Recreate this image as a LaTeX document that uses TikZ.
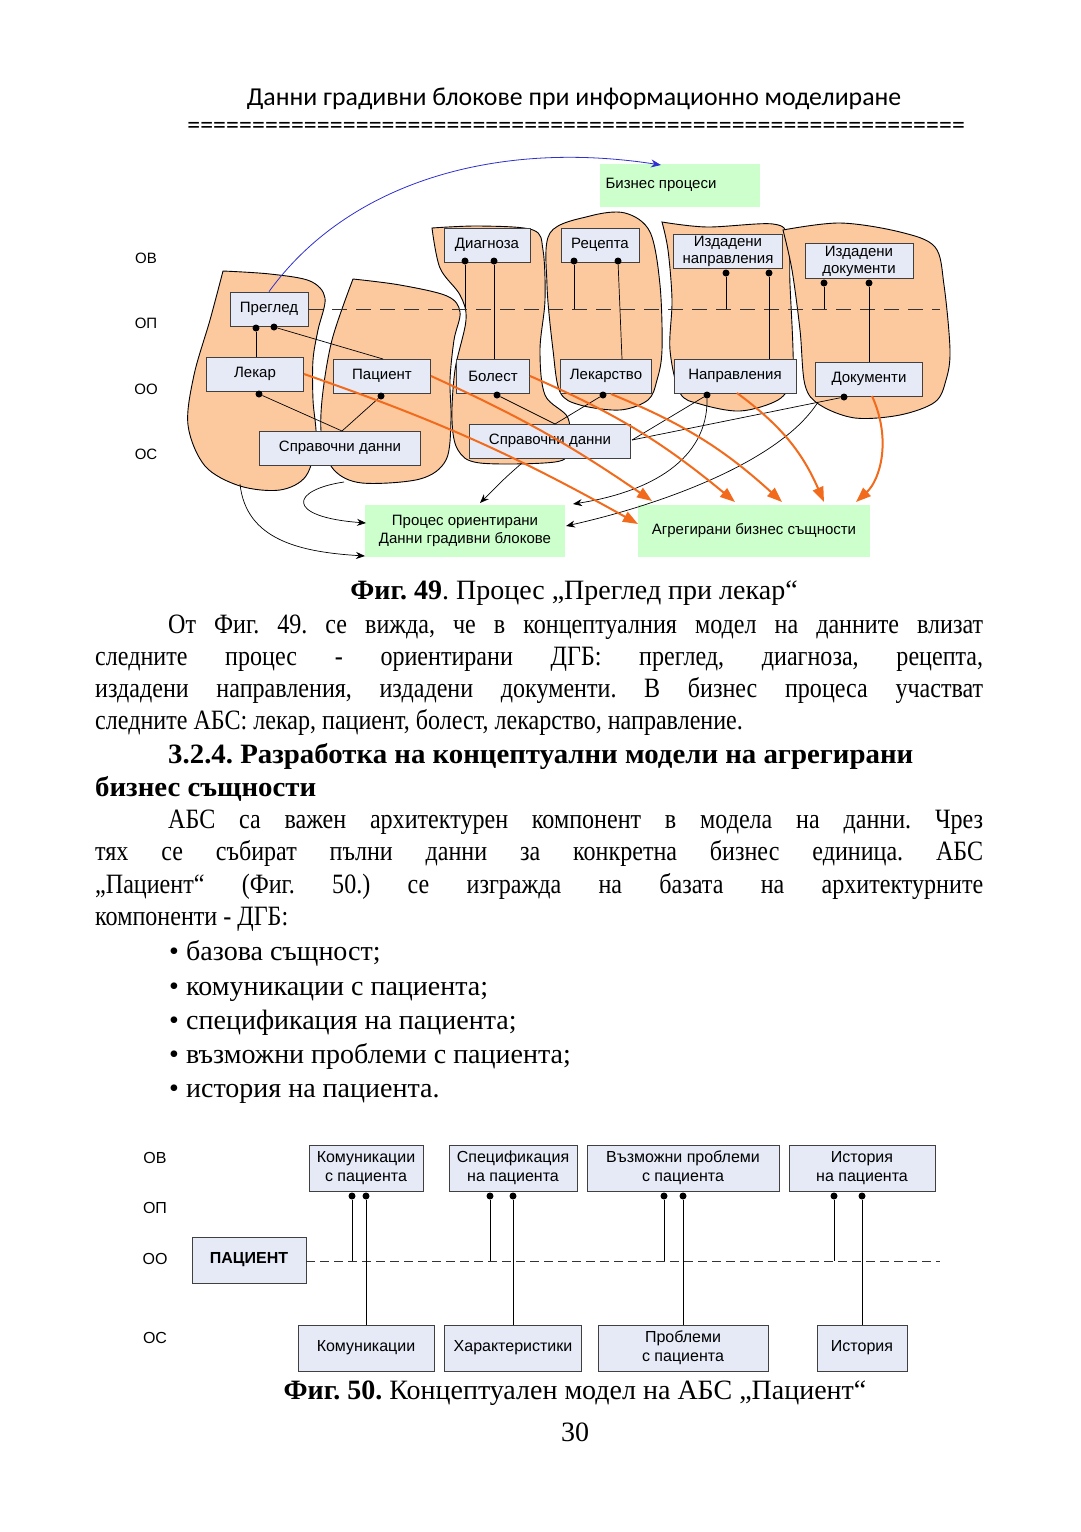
\documentclass[tikz,border=0pt]{standalone}
\usepackage{fontspec}
\usetikzlibrary{arrows.meta}
\newfontfamily\bodyfont{Liberation Serif}
\newfontfamily\parafont{Liberation Serif}[FakeStretch=0.86]
\newfontfamily\hbfont{Liberation Serif}[FakeStretch=1.03]
\newfontfamily\diafont{Liberation Sans}
\newfontfamily\headfont{Carlito}
\definecolor{boxblue}{HTML}{E6EAF6}
\definecolor{boxline}{HTML}{404040}
\definecolor{greenfill}{HTML}{CCFFCC}
\definecolor{blobfill}{HTML}{FCC89E}
\definecolor{orangeline}{HTML}{F26A1B}
\definecolor{blueline}{HTML}{3030D0}
\frenchspacing
\begin{document}
\begin{tikzpicture}[x=1pt,y=-1pt,
  txt/.style={font=\bodyfont\frenchspacing\fontsize{28}{32}\selectfont, inner sep=0pt},
  ptxt/.style={font=\parafont\frenchspacing\fontsize{28}{32}\selectfont, inner sep=0pt},
  htxt/.style={font=\hbfont\bfseries\frenchspacing\fontsize{28}{32}\selectfont, inner sep=0pt},
  fbox/.style={draw=boxline, fill=boxblue, line width=0.8pt, inner sep=0pt, align=center,
    font=\diafont\fontsize{15}{17}\selectfont},
  gbox/.style={fill=greenfill, inner sep=0pt, align=center, font=\diafont\fontsize{15}{18}\selectfont},
  sbox/.style={draw=boxline, fill=boxblue, line width=0.8pt, inner sep=0pt, align=center,
    font=\diafont\fontsize{16}{19}\selectfont},
  lbl/.style={font=\diafont\fontsize{15}{17}\selectfont, inner sep=0pt},
  blob/.style={draw=black, fill=blobfill, line width=0.9pt, line join=miter},
  dot/.style={circle, fill=black, inner sep=0pt, minimum size=7pt},
  conn/.style={draw=black, line width=0.7pt},
  barrow/.style={draw=black, line width=0.7pt, -{Stealth[length=9pt,width=7pt]}},
  oarrow/.style={draw=orangeline, line width=2pt, -{Triangle[length=15pt,width=11pt]}},
]
\fill[white] (0,0) rectangle (1080,1532);
\useasboundingbox (0,0) rectangle (1080,1532);

% ---------- header ----------
\node[anchor=base, font=\headfont\fontsize{25.8}{28}\selectfont, inner sep=0pt] (hdr) at (574,105)
  {Данни градивни блокове при информационно моделиране};
\node[anchor=base west, font=\headfont\fontsize{25.8}{28}\selectfont, inner sep=0pt] (eqline) at (187,133)
  {\hbox to 778pt{\xleaders\hbox{=}\hfill}};

% ---------- Fig 49 blobs (sharp top-left corners) ----------
\path[blob] plot[smooth, tension=0.55] coordinates {(223,271) (270,274) (310,281) (325,298) (318,330) (313,360) (313,400) (316,440) (306,476) (280,490) (240,486) (205,466) (188,425) (194,375) (210,320) (223,271)} -- cycle;
\path[blob] plot[smooth, tension=0.55] coordinates {(353,279) (400,285) (447,296) (460,312) (454,340) (450,380) (451,420) (446,460) (420,479) (362,483) (334,470) (322,440) (322,400) (332,340) (353,279)} -- cycle;
\path[blob] plot[smooth, tension=0.55] coordinates {(432,228) (480,226) (533,230) (543,250) (545,300) (540,350) (545,395) (568,418) (568,450) (555,462) (480,463) (458,450) (452,420) (455,370) (466,320) (460,295) (440,268) (432,228)} -- cycle;
\path[blob] plot[smooth cycle, tension=0.55] coordinates {(550,233) (590,216) (625,213) (650,232) (660,285) (662,350) (657,380) (648,400) (620,410) (580,405) (560,392) (553,350) (547,285)};
\path[blob] plot[smooth, tension=0.55] coordinates {(662,222) (707,227) (773,224) (788,238) (790,285) (793,350) (792,380) (778,400) (740,411) (700,404) (680,393) (670,350) (672,300) (668,250) (662,222)} -- cycle;
\path[blob] plot[smooth, tension=0.55] coordinates {(783,230) (840,223) (900,232) (935,247) (944,285) (950,350) (946,380) (935,402) (900,415) (855,418) (820,405) (805,385) (800,330) (792,270) (783,230)} -- cycle;

% ---------- Fig 49 level labels ----------
\node[lbl] (ov1) at (146,258) {ОВ};
\node[lbl] (op1) at (146,323) {ОП};
\node[lbl] (oo1) at (146,389) {ОО};
\node[lbl] (os1) at (146,454) {ОС};

% ---------- Fig 49 boxes ----------
\node[fbox, minimum width=78, minimum height=34] (pregled) at (269,309) {Преглед};
\node[fbox, minimum width=97, minimum height=34] (lekar) at (255,374) {Лекар};
\node[fbox, minimum width=97, minimum height=34] (pacient) at (382,376) {Пациент};
\node[fbox, minimum width=161, minimum height=34] (sprL) at (340,448) {Справочни данни};
\node[fbox, minimum width=86, minimum height=34] (diag) at (487,245) {Диагноза};
\node[fbox, minimum width=78, minimum height=34] (recepta) at (600,245) {Рецепта};
\node[fbox, minimum width=73, minimum height=34] (bolest) at (493,376) {Болест};
\node[fbox, minimum width=91, minimum height=34] (lekarstvo) at (606,376) {Лекарство};
\node[fbox, minimum width=161, minimum height=34] (sprM) at (550,441) {Справочни данни};
\node[fbox, minimum width=109, minimum height=34] (iznapr) at (728,251) {Издадени\\направления};
\node[fbox, minimum width=108, minimum height=35] (izdok) at (859,261) {Издадени\\документи};
\node[fbox, minimum width=122, minimum height=34] (napr) at (735,376) {Направления};
\node[fbox, minimum width=107, minimum height=34] (dok) at (869,379) {Документи};

\node[gbox, minimum width=160, minimum height=43] (bizpr) at (680,185) {\hspace*{-38pt}Бизнес процеси};
\node[gbox, minimum width=200, minimum height=52] (procor) at (465,531) {Процес ориентирани\\Данни градивни блокове};
\node[gbox, minimum width=232, minimum height=52] (agreg) at (754,531) {Агрегирани бизнес същности};

% ---------- dashed OП line ----------
\coordinate (dashend) at (940,309);
\draw[draw=black!80, line width=0.8pt, dash pattern=on 15pt off 9pt] (pregled.east) -- (dashend);

% ---------- dots and connectors ----------
\node[dot] (dPa) at (256,328) {};
\node[dot] (dPb) at (274,327) {};
\draw[conn] (dPa) -- (dPa |- lekar.north);
\coordinate (pacTop) at (383,359);
\draw[conn] (dPb) -- (pacTop);

\node[dot] (dDa) at (465,261) {};
\node[dot] (dDb) at (494,261) {};
\draw[conn] (dDa) -- (dDa |- dashend);
\draw[conn] (dDb) -- (dDb |- bolest.north);

\node[dot] (dRa) at (574,261) {};
\node[dot] (dRb) at (618,261) {};
\coordinate (lekTop) at (622,359);
\draw[conn] (dRa) -- (dRa |- dashend);
\draw[conn] (dRb) -- (lekTop);

\node[dot] (dNa) at (726,273) {};
\node[dot] (dNb) at (769,273) {};
\draw[conn] (dNa) -- (dNa |- dashend);
\draw[conn] (dNb) -- (dNb |- napr.north);

\node[dot] (dIa) at (824,283) {};
\node[dot] (dIb) at (869,283) {};
\draw[conn] (dIa) -- (dIa |- dashend);
\draw[conn] (dIb) -- (dIb |- dok.north);

\node[dot] (dL) at (259,394) {};
\node[dot] (dPc) at (381,396) {};
\coordinate (sprLtop) at (342,431);
\draw[conn] (dL) -- (sprLtop);
\draw[conn] (dPc) -- (sprLtop);

\node[dot] (dB) at (497,395) {};
\node[dot] (dLk) at (603,395) {};
\coordinate (sprMtop) at (555,424);
\draw[conn] (dB) -- (sprMtop);
\draw[conn] (dLk) -- (sprMtop);

\node[dot] (dNp) at (707,395) {};
\node[dot] (dDk) at (844,397) {};
\coordinate (sprMright) at (632,440);
\draw[conn] (dNp) -- (sprMright);
\draw[conn] (dDk) -- (sprMright);

% ---------- black curved arrows ----------
\coordinate (b1s) at (240,484);
\coordinate (b1e) at (365,556);
\draw[barrow] (b1s) .. controls (246,540) and (300,552) .. (b1e);
\coordinate (b2s) at (344,482);
\coordinate (b2e) at (366,523);
\draw[barrow] (b2s) .. controls (290,490) and (285,517) .. (b2e);
\coordinate (b3s) at (522,463);
\coordinate (b3e) at (480,503);
\draw[barrow] (b3s) .. controls (505,478) .. (b3e);
\coordinate (b4e) at (573,504);
\draw[barrow] (dNp) .. controls (708,460) and (650,492) .. (b4e);
\coordinate (b5s) at (818,402);
\coordinate (b5e) at (566,526);
\draw[barrow] (b5s) .. controls (780,462) and (660,505) .. (b5e);

% ---------- blue arrow ----------
\coordinate (blueEnd) at (661,165);
\draw[draw=blueline, line width=0.8pt, -{Stealth[length=10pt,width=8pt]}]
  (pregled.north) .. controls (350,180) and (500,140) .. (blueEnd);

% ---------- orange arrows ----------
\coordinate (o1) at (638,524);
\coordinate (o2) at (652,501);
\coordinate (o3) at (735,502);
\coordinate (o4) at (782,502);
\coordinate (o5) at (824,502);
\coordinate (o6) at (856,502);
\coordinate (lekarE) at (304,374);
\coordinate (pacE) at (431,376);
\coordinate (bolE) at (530,376);
\coordinate (lksB) at (611,394);
\coordinate (nprB) at (737,393);
\coordinate (dokB) at (872,396);
\draw[oarrow] (lekarE) to[bend left=5] (o1);
\draw[oarrow] (pacE) to[bend left=5] (o2);
\draw[oarrow] (bolE) to[bend left=8] (o3);
\draw[oarrow] (lksB) to[bend left=10] (o4);
\draw[oarrow] (nprB) to[bend left=15] (o5);
\draw[oarrow] (dokB) .. controls (892,440) and (880,480) .. (o6);

% ---------- body text ----------
\node[txt, anchor=base] (cap49) at (574,599) {\textbf{Фиг. 49}. Процес „Преглед при лекар“};
\node[ptxt, anchor=base west] (p1a) at (168,633) {\makebox[815pt][s]{От Фиг. 49. се вижда, че в концептуалния модел на данните влизат}};
\node[ptxt, anchor=base west] (p1b) at (95,665) {\makebox[888pt][s]{следните процес - ориентирани ДГБ: преглед, диагноза, рецепта,}};
\node[ptxt, anchor=base west] (p1c) at (95,697) {\makebox[888pt][s]{издадени направления, издадени документи. В бизнес процеса участват}};
\node[ptxt, anchor=base west] (p1d) at (95,729) {следните АБС: лекар, пациент, болест, лекарство, направление.};
\node[htxt, anchor=base west] (h1) at (168,763) {3.2.4. Разработка на концептуални модели на агрегирани};
\node[htxt, anchor=base west] (h2) at (95,796) {бизнес същности};
\node[ptxt, anchor=base west] (p2a) at (168,828) {\makebox[815pt][s]{АБС са важен архитектурен компонент в модела на данни. Чрез}};
\node[ptxt, anchor=base west] (p2b) at (95,860) {\makebox[888pt][s]{тях се събират пълни данни за конкретна бизнес единица. АБС}};
\node[ptxt, anchor=base west] (p2c) at (95,893) {\makebox[888pt][s]{„Пациент“ (Фиг. 50.) се изгражда на базата на архитектурните}};
\node[ptxt, anchor=base west] (p2d) at (95,925) {компоненти - ДГБ:};
\foreach \yy/\tt [count=\i] in {960/базова същност;, 995/комуникации с пациента;, 1029/спецификация на пациента;, 1063/възможни проблеми с пациента;, 1097/история на пациента.}{
  \node[txt, anchor=base] (bul\i) at (174,\yy) {•};
  \node[txt, anchor=base west] (bt\i) at (186,\yy) {\tt};
}

% ---------- Fig 50 ----------
\node[lbl, font=\diafont\fontsize{16}{18}\selectfont] (ov2) at (155,1158) {ОВ};
\node[lbl, font=\diafont\fontsize{16}{18}\selectfont] (op2) at (155,1208) {ОП};
\node[lbl, font=\diafont\fontsize{16}{18}\selectfont] (oo2) at (155,1259) {ОО};
\node[lbl, font=\diafont\fontsize{16}{18}\selectfont] (os2) at (155,1338) {ОС};

\node[sbox, minimum width=114, minimum height=46, font=\diafont\bfseries\fontsize{16}{19}\selectfont] (pac) at (249,1260) {ПАЦИЕНТ};
\node[sbox, minimum width=114, minimum height=46] (kom1) at (366,1168) {Комуникации\\с пациента};
\node[sbox, minimum width=128, minimum height=46] (spec) at (513,1168) {Спецификация\\на пациента};
\node[sbox, minimum width=192, minimum height=46] (vpr) at (683,1168) {Възможни проблеми\\с пациента};
\node[sbox, minimum width=146, minimum height=46] (ist1) at (862,1168) {История\\на пациента};
\node[sbox, minimum width=136, minimum height=46] (kom2) at (366,1348) {Комуникации};
\node[sbox, minimum width=137, minimum height=46] (har) at (513,1348) {Характеристики};
\node[sbox, minimum width=170, minimum height=46] (prob) at (683,1348) {Проблеми\\с пациента};
\node[sbox, minimum width=90, minimum height=46] (ist2) at (862,1348) {История};

\coordinate (dash2end) at (940,1261);
\draw[draw=black!80, line width=0.8pt, dash pattern=on 9pt off 5pt] (pac.east |- dash2end) -- (dash2end);

\node[dot] (k1a) at (352,1196) {};
\node[dot] (k1b) at (366,1196) {};
\draw[conn] (k1a) -- (k1a |- dash2end);
\draw[conn] (k1b) -- (k1b |- kom2.north);
\node[dot] (s1a) at (490,1196) {};
\node[dot] (s1b) at (513,1196) {};
\draw[conn] (s1a) -- (s1a |- dash2end);
\draw[conn] (s1b) -- (s1b |- har.north);
\node[dot] (v1a) at (664,1196) {};
\node[dot] (v1b) at (683,1196) {};
\draw[conn] (v1a) -- (v1a |- dash2end);
\draw[conn] (v1b) -- (v1b |- prob.north);
\node[dot] (i1a) at (834,1196) {};
\node[dot] (i1b) at (862,1196) {};
\draw[conn] (i1a) -- (i1a |- dash2end);
\draw[conn] (i1b) -- (i1b |- ist2.north);

\node[txt, anchor=base] (cap50) at (575,1399) {\textbf{Фиг. 50.} Концептуален модел на АБС „Пациент“};
\node[txt, anchor=base] (pagenum) at (575,1441) {30};
\end{tikzpicture}
\end{document}
